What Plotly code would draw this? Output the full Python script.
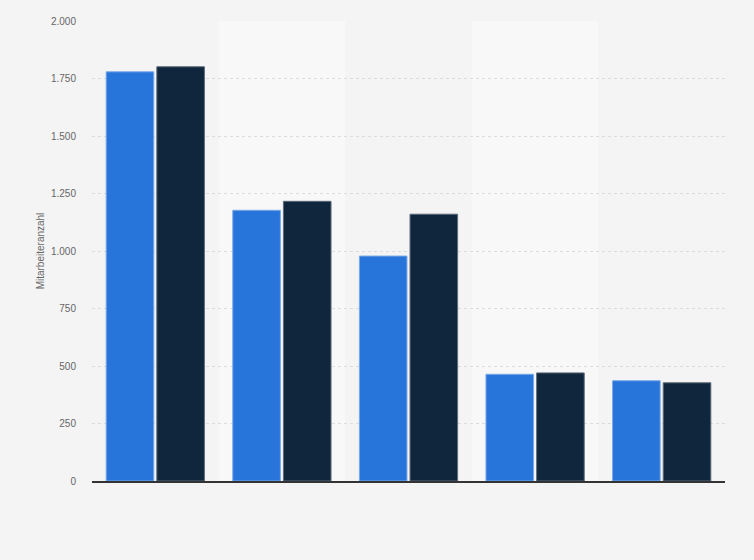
import plotly.graph_objects as go

# Five companies/categories, no visible x labels in the source
categories = ["1", "2", "3", "4", "5"]
series_a = [1779, 1177, 978, 464, 436]
series_b = [1801, 1216, 1160, 470, 427]
y_ticks = [0, 250, 500, 750, 1000, 1250, 1500, 1750, 2000]

fig = go.Figure()
fig.add_trace(go.Bar(
    x=categories, y=series_a, name="A",
    marker=dict(color="#2774db", line=dict(color="#7aa9e8", width=1)),
))
fig.add_trace(go.Bar(
    x=categories, y=series_b, name="B",
    marker=dict(color="#10263d", line=dict(color="#5d6b7a", width=1)),
))

# lighter alternating column bands
for i in (1, 3):
    fig.add_shape(type="rect", xref="x", yref="paper", x0=i - 0.5, x1=i + 0.5,
                  y0=0, y1=1, fillcolor="#f8f8f8", line_width=0, layer="below")

fig.update_xaxes(showticklabels=False, ticks="", showgrid=False, zeroline=False,
                 showline=True, linecolor="#333333", linewidth=1.5,
                 range=[-0.5, 4.5])
fig.update_yaxes(
    range=[0, 2000], tickvals=y_ticks, tickformat=",d",
    showgrid=True, gridcolor="#dcdcdc", griddash="dot", gridwidth=1,
    zeroline=False, showline=False, ticks="", ticklabelstandoff=15,
    tickfont=dict(size=10, color="#666666"),
    title=dict(text="Mitarbeiteranzahl", font=dict(size=10, color="#666666"), standoff=4),
)
# page has an 8px body margin, so the figure is sized to fill the rest
fig.update_layout(
    width=746, height=552,
    separators=",.",
    font=dict(family="Liberation Sans, Arial, sans-serif"),
    paper_bgcolor="#f4f4f4", plot_bgcolor="#f4f4f4",
    barmode="group", bargap=0.2, bargroupgap=0.06,
    showlegend=False,
    margin=dict(l=84, r=29, t=7, b=79, pad=0),
)
fig.write_html("out.html", post_script="document.body.style.background='#f4f4f4';")
